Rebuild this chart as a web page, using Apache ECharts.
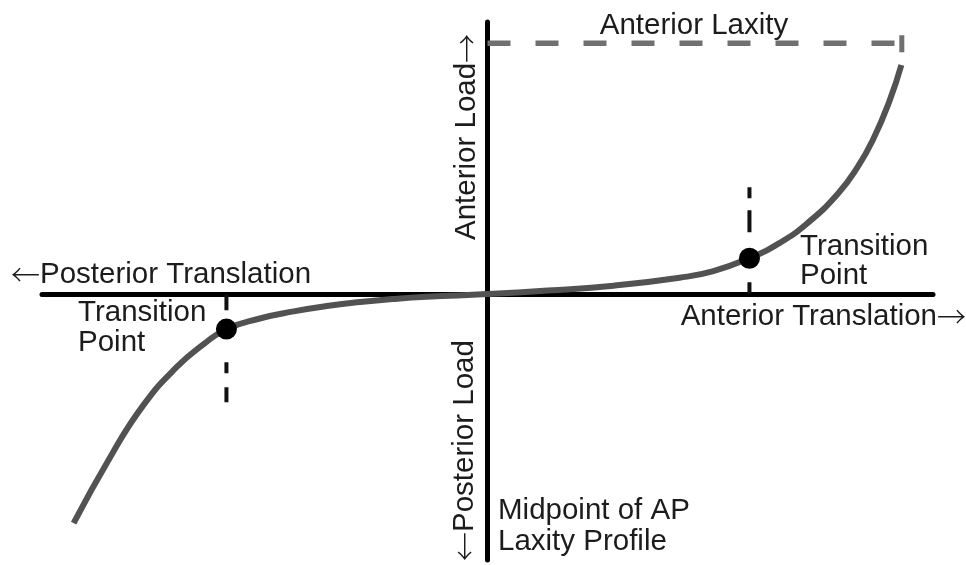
<!DOCTYPE html>
<html>
<head>
<meta charset="utf-8">
<script src="https://cdn.jsdelivr.net/npm/echarts@6/dist/echarts.min.js"></script>
<style>html,body{margin:0;padding:0;background:#fff;}#c{width:966px;height:565px;}</style>
</head>
<body>
<div id="c"></div>
<script>
// Load–translation curve (arbitrary units)
const curveX = [-9.29, -8.47, -7.72, -6.98, -6.37, -5.86, -5.11, -4.35, -3.61, -2.86, -2.11, -1.37, 0, 1.35, 2.83, 4.31, 5.07, 5.88, 6.55, 7.18, 7.86, 8.31, 8.66, 9.02, 9.29];
const curveY = [-5.17, -3.68, -2.50, -1.65, -1.13, -0.79, -0.55, -0.39, -0.27, -0.18, -0.11, -0.06, 0, 0.08, 0.19, 0.37, 0.52, 0.81, 1.15, 1.60, 2.26, 2.87, 3.50, 4.35, 5.17];
// Transition points
const transitionX = [-5.86, 5.88];
const transitionY = [-0.79, 0.81];
const guideEnd = [-2.44, 2.41];
// Anterior laxity marker
const laxityX = [0, 9.30];
const laxityY = 5.66;
const laxityCornerY = [5.84, 5.46];

const chart = echarts.init(document.getElementById('c'), null, {renderer: 'canvas'});
const FONT = "'Liberation Sans', Arial, Helvetica, sans-serif";
const TXT = '#1c1c1c';
const FS = 29.5;
const rich = {ar: {fontFamily: "'Noto Sans CJK JP'", fontSize: 29, fill: TXT, fontWeight: 300}};

function txt(text, x, y, align, rot) {
  return {
    type: 'text', x: x, y: y, rotation: rot || 0, z: 100,
    style: {text: text, font: FS + 'px ' + FONT, fill: TXT, align: align, verticalAlign: 'middle', rich: rich}
  };
}

const series = [];
// guide dashes at transition points (drawn from the outer end toward the axis)
series.push({
  type: 'line', data: [[transitionX[1], guideEnd[1]], [transitionX[1], 0]], symbol: 'none', silent: true, z: 3,
  lineStyle: {color: '#111', width: 4, type: [11, 12, 22, 50, 14]}
});
series.push({
  type: 'line', data: [[transitionX[0], guideEnd[0]], [transitionX[0], 0]], symbol: 'none', silent: true, z: 3,
  lineStyle: {color: '#111', width: 4, type: [15, 14, 11, 52, 16]}
});
// laxity dashed line
series.push({
  type: 'line', data: [[laxityX[0], laxityY], [laxityX[1], laxityY]], symbol: 'none', z: 2,
  lineStyle: {color: '#707070', width: 5.5, type: [23, 25]}
});
series.push({
  type: 'line', data: [[laxityX[1], laxityCornerY[0]], [laxityX[1], laxityCornerY[1]]], symbol: 'none', z: 2,
  lineStyle: {color: '#707070', width: 5}
});
// curve
series.push({
  type: 'line', data: curveX.map(function (x, i) { return [x, curveY[i]]; }),
  smooth: 0.5, symbol: 'none', z: 5, clip: false,
  lineStyle: {color: '#525252', width: 6, cap: 'butt'}
});
// transition points
series.push({
  type: 'scatter', data: transitionX.map(function (x, i) { return [x, transitionY[i]]; }),
  symbol: 'circle', symbolSize: 21, z: 10, itemStyle: {color: '#000', opacity: 1}
});

chart.setOption({
  animation: false,
  backgroundColor: '#fff',
  grid: {left: 42, right: 33, top: 22, bottom: 5, containLabel: false},
  xAxis: {
    type: 'value', min: -10, max: 10,
    axisLine: {show: true, onZero: true, lineStyle: {color: '#000', width: 5}},
    axisTick: {show: false}, axisLabel: {show: false}, splitLine: {show: false}
  },
  yAxis: {
    type: 'value', min: -6, max: 6.14,
    axisLine: {show: true, onZero: true, lineStyle: {color: '#000', width: 5}},
    axisTick: {show: false}, axisLabel: {show: false}, splitLine: {show: false}
  },
  series: series,
  graphic: [
    txt('Anterior Laxity', 694, 25.5, 'center'),
    txt('{ar|\u2190}Posterior Translation', 11, 275, 'left'),
    txt('Transition', 78, 313, 'left'),
    txt('Point', 78, 343, 'left'),
    txt('Transition', 800, 247, 'left'),
    txt('Point', 800, 276, 'left'),
    txt('Anterior Translation{ar|\u2192}', 966, 317, 'right'),
    txt('Midpoint of AP', 498, 511, 'left'),
    txt('Laxity Profile', 498, 542, 'left'),
    txt('Anterior Load{ar|\u2192}', 467, 240, 'left', Math.PI / 2),
    txt('{ar|\u2190}Posterior Load', 465, 561, 'left', Math.PI / 2)
  ]
});
</script>
</body>
</html>
